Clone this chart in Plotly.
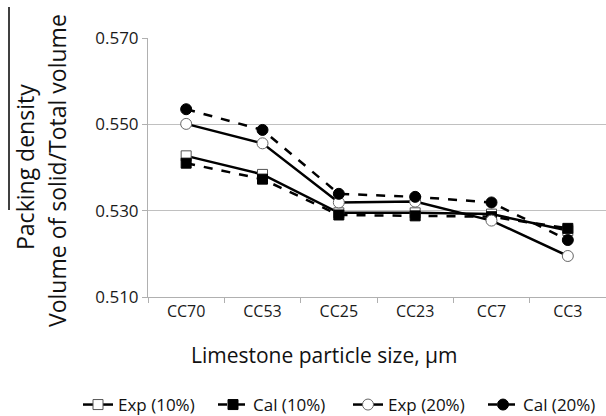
import plotly.graph_objects as go

categories = ["CC70", "CC53", "CC25", "CC23", "CC7", "CC3"]
exp10 = [0.5427, 0.5384, 0.5295, 0.5295, 0.5292, 0.5254]
cal10 = [0.5410, 0.5373, 0.5290, 0.5288, 0.5286, 0.5259]
exp20 = [0.5501, 0.5456, 0.5319, 0.5321, 0.5277, 0.5195]
cal20 = [0.5535, 0.5487, 0.5339, 0.5332, 0.5319, 0.5232]
y_ticks = [0.510, 0.530, 0.550, 0.570]

FONT = "Open Sans"
fig = go.Figure()

fig.add_trace(go.Scatter(x=categories, y=exp10, name="Exp (10%)", mode="lines+markers",
                         line=dict(color="black", width=2.5, dash="solid"),
                         marker=dict(symbol="square", size=10, color="white",
                                     line=dict(color="#555", width=1))))
fig.add_trace(go.Scatter(x=categories, y=cal10, name="Cal (10%)", mode="lines+markers",
                         line=dict(color="black", width=2.5, dash="dash"),
                         marker=dict(symbol="square", size=10, color="black",
                                     line=dict(color="black", width=1))))
fig.add_trace(go.Scatter(x=categories, y=exp20, name="Exp (20%)", mode="lines+markers",
                         line=dict(color="black", width=2.5, dash="solid"),
                         marker=dict(symbol="circle", size=11, color="white",
                                     line=dict(color="#666", width=1))))
fig.add_trace(go.Scatter(x=categories, y=cal20, name="Cal (20%)", mode="lines+markers",
                         line=dict(color="black", width=2.5, dash="dash"),
                         marker=dict(symbol="circle", size=11, color="black",
                                     line=dict(color="black", width=1))))

fig.update_layout(
    width=606, height=416,
    margin=dict(l=148, r=0, t=38, b=119, autoexpand=False),
    paper_bgcolor="white", plot_bgcolor="white",
    font=dict(family=FONT, color="#222", size=16),
    showlegend=True,
    legend=dict(orientation="h", xref="paper", yref="paper",
                x=(78 - 148) / 458, xanchor="left", y=(297 - 405) / 259, yanchor="middle",
                font=dict(size=17, family=FONT, color="#111"),
                itemwidth=30, tracegroupgap=0, entrywidth=90, entrywidthmode="pixels"),
    xaxis=dict(type="category", showgrid=False, showline=True, linecolor="#b0b0b0",
               linewidth=1, ticks="outside", tickson="boundaries", ticklen=5,
               tickcolor="#b0b0b0", tickfont=dict(size=16, family=FONT, color="#1a1a1a"),
               range=[-0.5, 5.5]),
    yaxis=dict(range=[0.510, 0.570], tickvals=y_ticks, tickformat=".3f",
               showgrid=True, gridcolor="#c0c0c0", gridwidth=1,
               showline=True, linecolor="#b0b0b0", linewidth=1,
               ticks="outside", ticklen=5, tickcolor="#b0b0b0",
               tickfont=dict(size=17, family=FONT, color="#1a1a1a"), zeroline=False),
    annotations=[
        dict(text="Limestone particle size, μm", xref="paper", yref="paper",
             x=(324 - 148) / 458, y=-(355 - 297) / 259, xanchor="center", yanchor="middle",
             showarrow=False, font=dict(size=21, family=FONT, color="#111")),
        dict(text="Packing density", xref="paper", yref="paper",
             x=-(148 - 25) / 458, y=(297 - 167) / 259, xanchor="center", yanchor="middle",
             textangle=-90, showarrow=False, font=dict(size=23, family=FONT, color="#111")),
        dict(text="Volume of solid/Total volume", xref="paper", yref="paper",
             x=-(148 - 57) / 458, y=(297 - 171) / 259, xanchor="center", yanchor="middle",
             textangle=-90, showarrow=False, font=dict(size=23, family=FONT, color="#111")),
    ],
    shapes=[dict(type="line", xref="paper", yref="paper",
                 x0=-(148 - 9) / 458, x1=-(148 - 9) / 458,
                 y0=(297 - 7) / 259, y1=(297 - 210) / 259,
                 line=dict(color="black", width=1.5))],
)

fig.write_html("out.html")
